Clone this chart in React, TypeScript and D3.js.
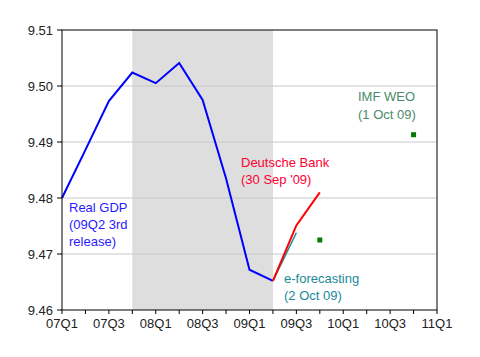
import React from "react";
import * as d3 from "d3";

const quarters = ["07Q1","07Q2","07Q3","07Q4","08Q1","08Q2","08Q3","08Q4","09Q1","09Q2","09Q3","09Q4","10Q1","10Q2","10Q3","10Q4","11Q1"];
const tickLabels = ["07Q1","07Q3","08Q1","08Q3","09Q1","09Q3","10Q1","10Q3","11Q1"];
const yTicks = [9.46, 9.47, 9.48, 9.49, 9.50, 9.51];

const gdpQ = ["07Q1","07Q2","07Q3","07Q4","08Q1","08Q2","08Q3","08Q4","09Q1","09Q2"];
const gdpV = [9.4800, 9.4886, 9.4973, 9.5024, 9.5005, 9.5041, 9.4975, 9.4835, 9.4672, 9.4652];

const dbQ = ["09Q2","09Q3","09Q4"];
const dbV = [9.4652, 9.4751, 9.4810];

const efQ = ["09Q2","09Q3"];
const efV = [9.4652, 9.4738];

const imfQ = ["09Q4","10Q4"];
const imfV = [9.4725, 9.4913];

const recession = ["07Q4","09Q2"];

export default function App() {
  const W = 480, H = 357;
  const L = 62, R = 437, T = 30, B = 310;
  const qi = (q: string) => quarters.indexOf(q);
  const x = d3.scaleLinear().domain([0, 16]).range([L, R]);
  const y = d3.scaleLinear().domain([9.46, 9.51]).range([B, T]);
  const line = d3.line<[string, number]>().x(d => x(qi(d[0]))).y(d => y(d[1]));
  const zip = (a: string[], b: number[]) => a.map((q, i) => [q, b[i]] as [string, number]);
  const font = "Arial, 'Liberation Sans', sans-serif";
  return (
    <svg width={W} height={H} style={{ position: "absolute", left: 0, top: 0 }}>
      <rect x={0} y={0} width={W} height={H} fill="#fff" />
      <rect x={x(qi(recession[0]))} y={T} width={x(qi(recession[1])) - x(qi(recession[0]))} height={B - T} fill="#dedede" />
      {yTicks.slice(1, -1).map(v => (
        <line key={v} x1={L} x2={R} y1={y(v)} y2={y(v)} stroke="#c8c8c8" strokeWidth={1} />
      ))}
      <path d={line(zip(gdpQ, gdpV)) || ""} fill="none" stroke="#0000ff" strokeWidth={2} />
      <path d={line(zip(efQ, efV)) || ""} fill="none" stroke="#1a8a9a" strokeWidth={1.5} />
      <path d={line(zip(dbQ, dbV)) || ""} fill="none" stroke="#ff0000" strokeWidth={2} />
      {imfQ.map((q, i) => (
        <rect key={q} x={x(qi(q)) - 2.5} y={y(imfV[i]) - 2.5} width={5} height={5} fill="#007a00" />
      ))}
      <rect x={L} y={T} width={R - L} height={B - T} fill="none" stroke="#000" strokeWidth={1} />
      {yTicks.map(v => (
        <g key={v}>
          <line x1={L - 5} x2={L} y1={y(v)} y2={y(v)} stroke="#000" />
          <text x={53} y={y(v) + 4.5} textAnchor="end" fontFamily={font} fontSize={13} fill="#222">{v.toFixed(2)}</text>
        </g>
      ))}
      {quarters.map((q, i) => (
        <line key={q} x1={x(i)} x2={x(i)} y1={B} y2={B + 4} stroke="#000" />
      ))}
      {tickLabels.map(q => (
        <text key={q} x={x(qi(q))} y={328} textAnchor="middle" fontFamily={font} fontSize={13} fill="#222">{q}</text>
      ))}
      <g fontFamily={font} fontSize={13}>
        <text fill="#2a1aff">
          <tspan x={69} y={212}>Real GDP</tspan>
          <tspan x={69} y={229}>(09Q2 3rd</tspan>
          <tspan x={69} y={246}>release)</tspan>
        </text>
        <text fill="#ff0033">
          <tspan x={241} y={167}>Deutsche Bank</tspan>
          <tspan x={241} y={184}>(30 Sep '09)</tspan>
        </text>
        <text fill="#1a8a9a">
          <tspan x={284} y={283}>e-forecasting</tspan>
          <tspan x={284} y={300}>(2 Oct 09)</tspan>
        </text>
        <text fill="#4a8a6a">
          <tspan x={358} y={101}>IMF WEO</tspan>
          <tspan x={358} y={119}>(1 Oct 09)</tspan>
        </text>
      </g>
    </svg>
  );
}
